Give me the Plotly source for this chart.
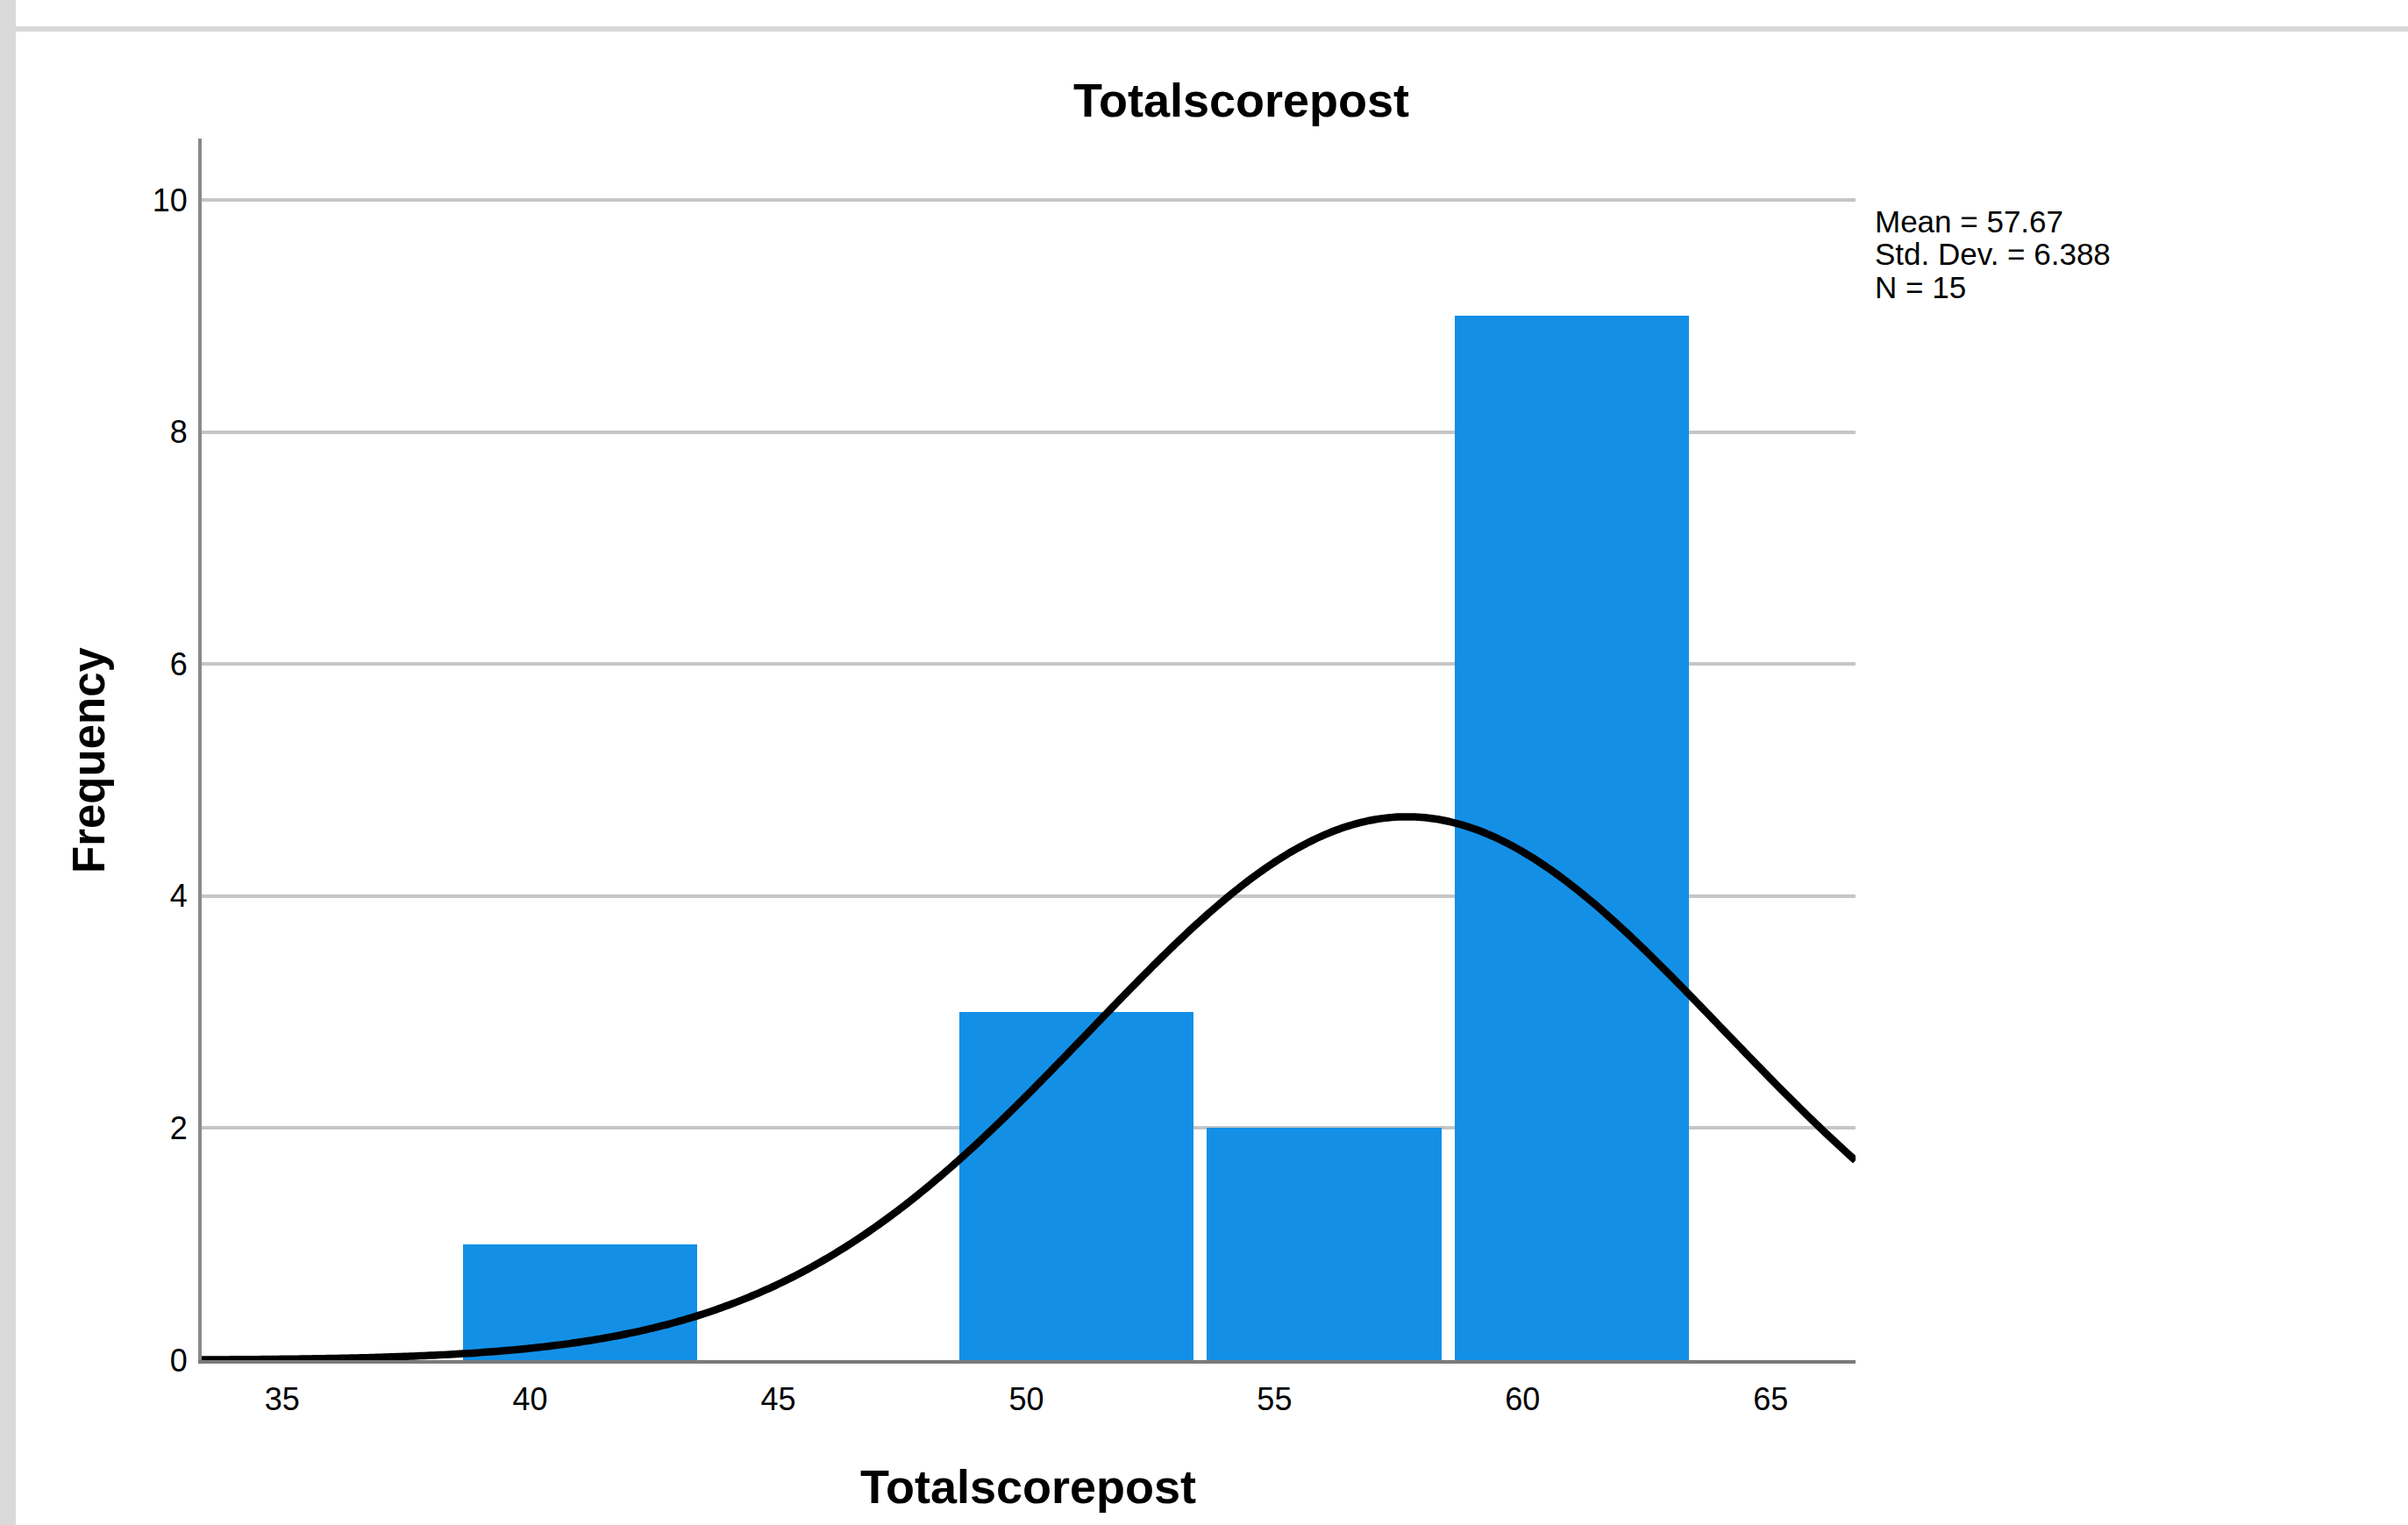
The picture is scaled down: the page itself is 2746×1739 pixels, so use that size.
import numpy as np
import plotly.graph_objects as go

# ---- data ----
bin_centers = [41, 46, 51, 56, 61]
counts = [1, 0, 3, 2, 9]
bin_width = 5
x_ticks = [35, 40, 45, 50, 55, 60, 65]
y_ticks = [0, 2, 4, 6, 8, 10]
stat_mean = 57.67
stat_sd = 6.388
stat_n = 15
title_text = "Totalscorepost"
x_title = "Totalscorepost"
y_title = "Frequency"
stats_lines = ["Mean = 57.67", "Std. Dev. = 6.388", "N = 15"]

# ---- layout geometry (pixels) ----
W, H = 2746, 1739
L, R, T, B = 230, 2116, 158, 1551
x_range = [33.38, 66.71]
y_range = [0, 10.53]


def px2x(p):
    return (p - L) / (R - L)


def px2y(p):
    return (B - p) / (B - T)


# fitted normal curve from the displayed statistics
xs = np.linspace(x_range[0], x_range[1], 500)
ys = stat_n * bin_width * np.exp(-0.5 * ((xs - stat_mean) / stat_sd) ** 2) / (stat_sd * np.sqrt(2 * np.pi))

FONT = "Liberation Sans, Arial, sans-serif"

fig = go.Figure()
fig.add_bar(
    x=bin_centers, y=counts, width=4.72,
    marker=dict(color="#1390E6", line=dict(width=0)),
    hoverinfo="skip",
)
fig.add_scatter(
    x=xs, y=ys, mode="lines",
    line=dict(color="black", width=8.5, simplify=False),
    hoverinfo="skip",
)

annotations = [
    dict(text=title_text, x=px2x(1415), y=px2y(114), xref="paper", yref="paper",
         xanchor="center", yanchor="middle", showarrow=False,
         font=dict(family=FONT, size=54, color="black", weight="bold")),
    dict(text=x_title, x=px2x(1172), y=px2y(1695), xref="paper", yref="paper",
         xanchor="center", yanchor="middle", showarrow=False,
         font=dict(family=FONT, size=54, color="black", weight="bold")),
    dict(text=y_title, x=px2x(102), y=px2y(867), xref="paper", yref="paper",
         xanchor="center", yanchor="middle", showarrow=False, textangle=-90,
         font=dict(family=FONT, size=51, color="black", weight="bold")),
]
for i, line in enumerate(stats_lines):
    annotations.append(dict(
        text=line, x=px2x(2136), y=px2y(252 + 37.5 * i), xref="paper", yref="paper",
        xanchor="left", yanchor="middle", showarrow=False,
        font=dict(family=FONT, size=35, color="black"),
    ))

shapes = [
    dict(type="rect", xref="paper", yref="paper",
         x0=px2x(0), x1=px2x(18), y0=px2y(H), y1=px2y(0),
         fillcolor="#dadada", line=dict(width=0)),
    dict(type="rect", xref="paper", yref="paper",
         x0=px2x(18), x1=px2x(W), y0=px2y(36), y1=px2y(30),
         fillcolor="#d8d8d8", line=dict(width=0)),
]

fig.update_layout(
    width=W, height=H,
    margin=dict(l=L, r=W - R, t=T, b=H - B, pad=0),
    paper_bgcolor="white", plot_bgcolor="white",
    showlegend=False, bargap=0,
    font=dict(family=FONT, color="black"),
    annotations=annotations, shapes=shapes,
    xaxis=dict(
        range=x_range, tickvals=x_ticks, ticktext=[str(v) for v in x_ticks],
        ticks="", showgrid=False, zeroline=False,
        showline=True, linecolor="#7a7a7a", linewidth=4,
        tickfont=dict(family=FONT, size=36, color="black"),
        ticklabelstandoff=10,
    ),
    yaxis=dict(
        range=y_range, tickvals=y_ticks, ticktext=[str(v) for v in y_ticks],
        ticks="", showgrid=True, gridcolor="#c6c6c6", gridwidth=4, zeroline=False,
        showline=True, linecolor="#8a8a8a", linewidth=4,
        tickfont=dict(family=FONT, size=36, color="black"),
        ticklabelstandoff=5,
    ),
)

fig.write_html(
    "out.html",
    config={"displayModeBar": False},
    post_script="document.body.style.margin='0';document.body.style.overflow='hidden';",
)
